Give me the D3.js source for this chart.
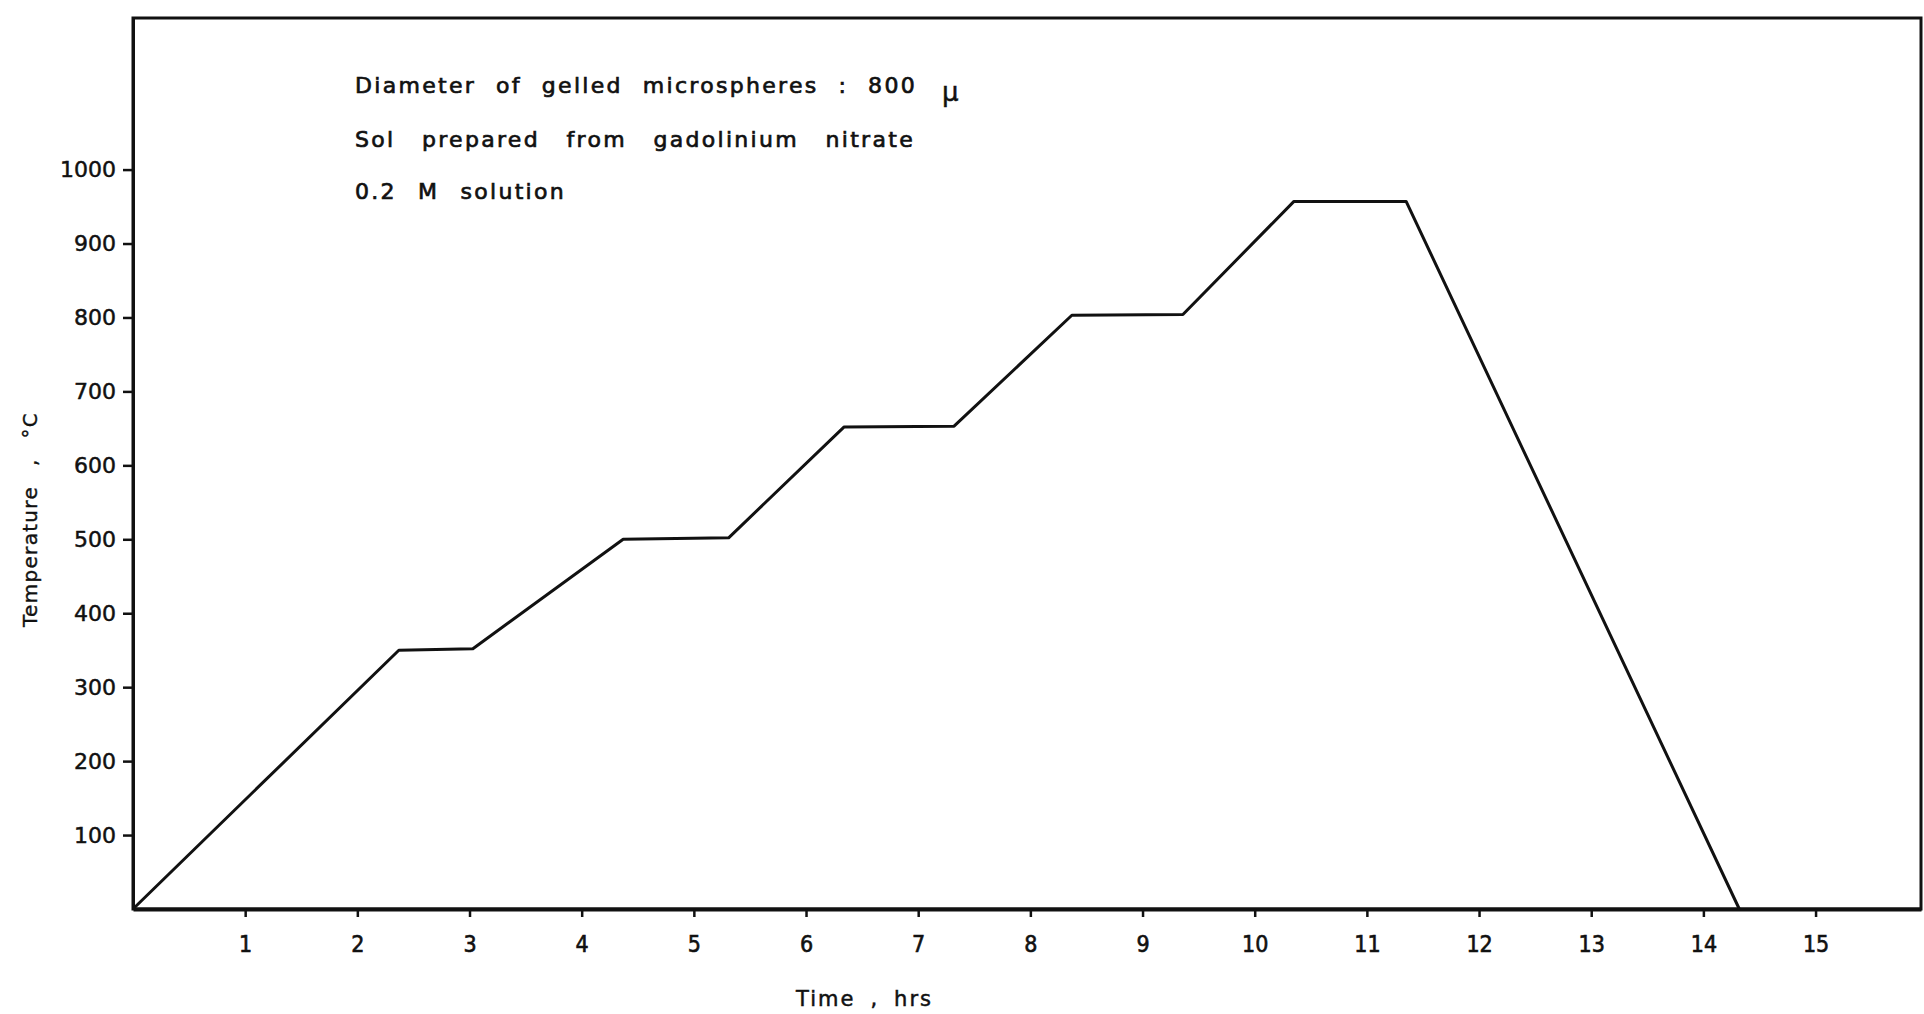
<!DOCTYPE html>
<html>
<head>
<meta charset="utf-8">
<script src="https://cdn.jsdelivr.net/npm/d3@7"></script>
<style>
  html, body { margin: 0; padding: 0; background: #ffffff; }
  svg { display: block; }
  text { font-family: "DejaVu Sans", sans-serif; fill: #111; }
</style>
</head>
<body>
<svg id="chart" width="1924" height="1014"></svg>
<script>
// ---- data ----
const timesHrs = [0, 2.37, 3.03, 4.37, 5.31, 6.34, 7.32, 8.37, 9.36, 10.35, 11.35, 14.32];
const tempsC   = [0, 350, 352, 500, 502, 652, 653, 803, 804, 957, 957, 0];
const xTickValues = [1, 2, 3, 4, 5, 6, 7, 8, 9, 10, 11, 12, 13, 14, 15];
const yTickValues = [100, 200, 300, 400, 500, 600, 700, 800, 900, 1000];
const noteLines = [
  "Diameter of gelled microspheres : 800",
  "Sol prepared from gadolinium nitrate",
  "0.2 M solution"
];
const noteUnit = "μ";
const xTitle = "Time , hrs";
const yTitle = "Temperature , °C";

// ---- layout ----
const svg = d3.select("#chart");
const mLeft = 133, mRight = 1921, mTop = 18, mBottom = 909;

const x = d3.scaleLinear().domain([0, 15.94]).range([mLeft, mRight]);
const y = d3.scaleLinear().domain([0, 1205]).range([mBottom, mTop]);

// spread words so a line spans a target width
function fitWords(sel, target) {
  const natural = sel.node().getComputedTextLength();
  const gaps = (sel.text().match(/ /g) || []).length;
  if (gaps > 0 && natural < target) sel.style("word-spacing", ((target - natural) / gaps) + "px");
  return sel;
}

// frame
svg.append("rect")
  .attr("x", mLeft).attr("y", mTop)
  .attr("width", mRight - mLeft).attr("height", mBottom - mTop)
  .attr("fill", "none").attr("stroke", "#111").attr("stroke-width", 3);

// bottom axis
const gx = svg.append("g")
  .attr("transform", `translate(0,${mBottom})`)
  .call(d3.axisBottom(x).tickValues(xTickValues).tickSize(8).tickSizeOuter(0).tickPadding(19).tickFormat(d3.format("d")));
gx.select(".domain").attr("stroke", "#111").attr("stroke-width", 4);
gx.selectAll(".tick line").attr("stroke", "#111").attr("stroke-width", 2.5);
gx.selectAll(".tick text").attr("font-size", 23).attr("fill", "#111")
  .style("font-family", "'DejaVu Sans Condensed', 'DejaVu Sans', sans-serif")
  .attr("stroke", "#111").attr("stroke-width", 0.6);

// left axis
const gy = svg.append("g")
  .attr("transform", `translate(${mLeft},0)`)
  .call(d3.axisLeft(y).tickValues(yTickValues).tickSize(10).tickSizeOuter(0).tickPadding(7).tickFormat(d3.format("d")));
gy.select(".domain").attr("stroke", "#111").attr("stroke-width", 3);
gy.selectAll(".tick line").attr("stroke", "#111").attr("stroke-width", 2.5);
gy.selectAll(".tick text").attr("font-size", 22).attr("fill", "#111")
  .attr("stroke", "#111").attr("stroke-width", 0.5);

// data line
const pts = timesHrs.map((t, i) => [t, tempsC[i]]);
svg.append("path")
  .datum(pts)
  .attr("fill", "none")
  .attr("stroke", "#111")
  .attr("stroke-width", 3)
  .attr("stroke-linejoin", "round")
  .attr("d", d3.line().x(d => x(d[0])).y(d => y(d[1])));

// annotation text
const noteX = 355;
const noteBaselines = [93, 147, 199];
const noteWidths = [562, 560, 211];
noteLines.forEach((s, i) => {
  const t = svg.append("text")
    .attr("x", noteX).attr("y", noteBaselines[i])
    .attr("font-size", 22)
    .style("letter-spacing", "2.3px")
    .attr("stroke", "#111").attr("stroke-width", 0.7)
    .text(s);
  fitWords(t, noteWidths[i]);
});
svg.append("text")
  .attr("x", 942).attr("y", 101)
  .attr("font-size", 26)
  .attr("stroke", "#111").attr("stroke-width", 0.5)
  .text(noteUnit);

// axis titles
const xt = svg.append("text")
  .attr("x", 796).attr("y", 1006)
  .attr("font-size", 21)
  .style("letter-spacing", "2px")
  .attr("stroke", "#111").attr("stroke-width", 0.5)
  .text(xTitle);
fitWords(xt, 137);

const yt = svg.append("text")
  .attr("transform", "translate(37,627) rotate(-90)")
  .attr("font-size", 20)
  .style("letter-spacing", "1.3px")
  .attr("stroke", "#111").attr("stroke-width", 0.4)
  .text(yTitle);
fitWords(yt, 215);
</script>
</body>
</html>
